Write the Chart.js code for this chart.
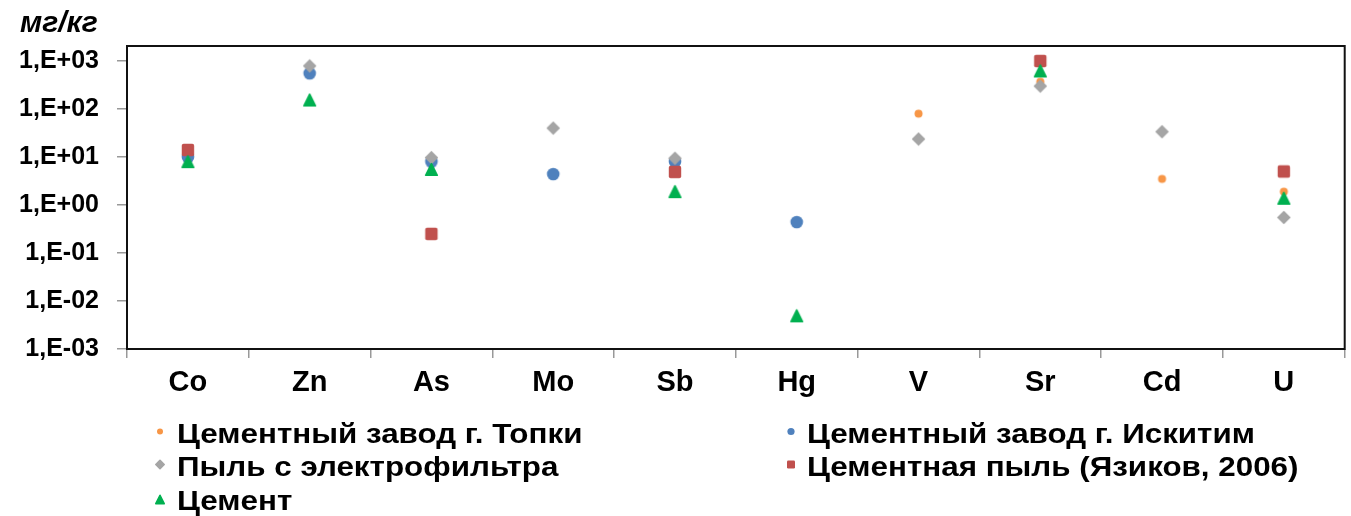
<!DOCTYPE html>
<html>
<head>
<meta charset="utf-8">
<script src="https://cdn.jsdelivr.net/npm/chart.js@4/dist/chart.umd.min.js"></script>
<style>
  html, body { margin: 0; padding: 0; background: #fff; }
  #wrap { width: 1351px; height: 516px; position: relative; }
</style>
</head>
<body>
<div id="wrap"><canvas id="c" width="1351" height="516"></canvas></div>
<script>
// Elements on the x axis
const elements = ['Co', 'Zn', 'As', 'Mo', 'Sb', 'Hg', 'V', 'Sr', 'Cd', 'U'];

// Concentrations, mg/kg (null = not determined)
const topkiPlant   = [null, null, null, null, null, null, 80,   370,  3.5,  1.9];
const iskitimPlant = [10,   553,  8,    4.4,  8,    0.44, null, null, null, null];
const filterDust   = [null, 790,  9.7,  40,   9.4,  null, 23.7, 300,  33.6, 0.55];
const cementDust   = [14,   null, 0.25, null, 4.9,  null, null, 1000, null, 5];
const cement       = [8,    154,  5.5,  null, 1.9,  0.0049, null, 620, null, 1.38];

// Log-axis ticks
const yTickValues = [0.001, 0.01, 0.1, 1, 10, 100, 1000];
const yTickLabels = ['1,E-03', '1,E-02', '1,E-01', '1,E+00', '1,E+01', '1,E+02', '1,E+03'];

const seriesNames = [
  'Цементный завод г. Топки',
  'Цементный завод г. Искитим',
  'Пыль с электрофильтра',
  'Цементная пыль (Язиков, 2006)',
  'Цемент'
];
const yUnit = 'мг/кг';

const FONT = '"Liberation Sans", Arial, sans-serif';

// Marker shapes -------------------------------------------------------
function shapePath(ctx, style, x, y, r) {
  ctx.beginPath();
  if (style === 'circle') {
    ctx.arc(x, y, r, 0, Math.PI * 2);
  } else if (style === 'diamond') {
    ctx.moveTo(x, y - r); ctx.lineTo(x + r, y); ctx.lineTo(x, y + r); ctx.lineTo(x - r, y);
    ctx.closePath();
  } else if (style === 'square') {
    const s = r, c = Math.max(1, r * 0.3);
    ctx.roundRect(x - s, y - s, 2 * s, 2 * s, c);
  } else if (style === 'triangle') {
    ctx.moveTo(x, y - r); ctx.lineTo(x + r, y + r); ctx.lineTo(x - r, y + r);
    ctx.closePath();
  }
}

function drawShape(ctx, style, x, y, r, color) {
  ctx.save();
  ctx.fillStyle = color;
  ctx.strokeStyle = color;
  ctx.lineJoin = 'round';
  shapePath(ctx, style, x, y, r);
  ctx.fill();
  if (style === 'triangle' || style === 'diamond') {
    ctx.lineWidth = 1.6;
    ctx.stroke();
  }
  ctx.restore();
}

function markerImage(style, r, color) {
  const size = Math.ceil(2 * r + 3);
  const cv = document.createElement('canvas');
  cv.width = size; cv.height = size;
  drawShape(cv.getContext('2d'), style, size / 2, size / 2, r, color);
  return cv;
}

function series(label, data, color, style, r, legendR, order) {
  const img = markerImage(style, r, color);
  return {
    label, data, order,
    showLine: false,
    pointStyle: img,
    pointRadius: r,
    pointHoverRadius: r,
    pointBackgroundColor: color,
    pointBorderColor: color,
    pointBorderWidth: 0,
    backgroundColor: color,
    borderColor: color,
    markerShape: style,
    legendR
  };
}

const datasets = [
  series(seriesNames[0], topkiPlant,   '#F79646', 'circle',   4,   3,   5),
  series(seriesNames[1], iskitimPlant, '#4F81BD', 'circle',   6.3, 3.6, 4),
  series(seriesNames[2], filterDust,   '#A5A5A5', 'diamond',  5.8, 4.2, 3),
  series(seriesNames[3], cementDust,   '#C0504D', 'square',   6.2, 4,   2),
  series(seriesNames[4], cement,       '#00B050', 'triangle', 5.8, 4.2, 1)
];

// Frame around the plot, unit label and a two-column legend
const decorations = {
  id: 'decorations',
  afterDraw(chart) {
    const ctx = chart.ctx;
    const a = chart.chartArea;
    ctx.save();
    ctx.strokeStyle = '#111';
    ctx.lineWidth = 2;
    ctx.strokeRect(a.left, a.top, a.right - a.left, a.bottom - a.top);

    ctx.fillStyle = '#000';
    ctx.font = 'italic bold 30px ' + FONT;
    ctx.textBaseline = 'alphabetic';
    ctx.textAlign = 'left';
    ctx.fillText(yUnit, 20, 31.5);

    const markerX = [160, 791];
    const textX = [177, 807];
    const markerY = [431.5, 464.5, 499.5];
    const baseY = [442.5, 475.5, 509.5];
    const slots = [[0, 0], [1, 0], [0, 1], [1, 1], [0, 2]];
    ctx.font = 'bold 28px ' + FONT;
    chart.data.datasets.forEach((ds, i) => {
      const [c, r] = slots[i];
      drawShape(ctx, ds.markerShape, markerX[c], markerY[r], ds.legendR, ds.pointBackgroundColor);
      ctx.save();
      ctx.translate(textX[c], baseY[r]);
      ctx.scale(1.12, 1);
      ctx.fillStyle = '#000';
      ctx.fillText(ds.label, 0, 0);
      ctx.restore();
    });
    ctx.restore();
  }
};

new Chart(document.getElementById('c'), {
  type: 'line',
  data: { labels: elements, datasets },
  plugins: [decorations],
  options: {
    responsive: false,
    animation: false,
    devicePixelRatio: 1,
    layout: { padding: { top: 46, right: 4, left: 0, bottom: 0 } },
    plugins: { legend: { display: false }, tooltip: { enabled: false } },
    scales: {
      x: {
        type: 'category',
        offset: true,
        afterFit(s) { s.height = 167; s.paddingLeft = 0; s.paddingRight = 0; },
        border: { display: false },
        grid: { offset: true, drawOnChartArea: false, drawTicks: true, tickLength: 9, color: '#999', lineWidth: 1.5 },
        ticks: { color: '#000', padding: 8, font: { family: FONT, size: 29, weight: 'bold' } }
      },
      y: {
        type: 'logarithmic',
        min: 0.001,
        max: 2055,
        afterFit(s) { s.width = 127; s.paddingTop = 0; s.paddingBottom = 0; },
        afterBuildTicks(s) { s.ticks = yTickValues.map(v => ({ value: v, major: true })); },
        border: { display: false },
        grid: { drawOnChartArea: false, drawTicks: true, tickLength: 10, color: '#999', lineWidth: 1.5 },
        ticks: {
          color: '#000', padding: 18, autoSkip: false,
          font: { family: FONT, size: 25, weight: 'bold' },
          callback(v) {
            const i = yTickValues.findIndex(t => Math.abs(Math.log10(t) - Math.log10(v)) < 1e-6);
            return i >= 0 ? yTickLabels[i] : '';
          }
        }
      }
    }
  }
});
</script>
</body>
</html>
